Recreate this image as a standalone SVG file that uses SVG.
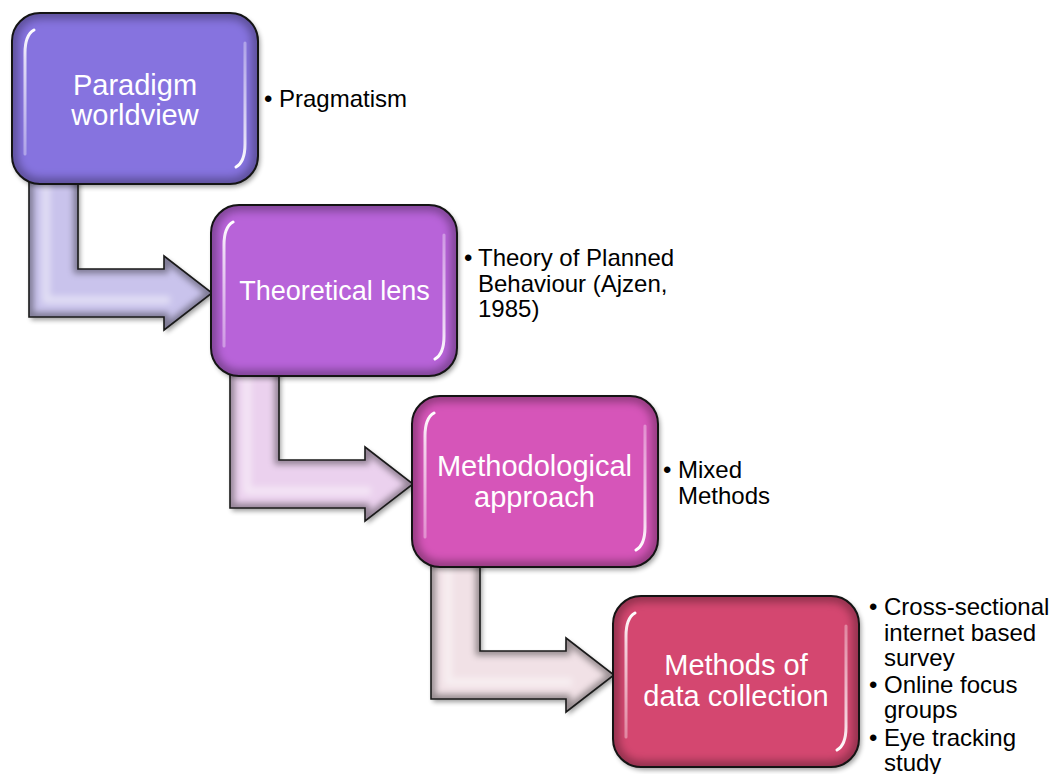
<svg xmlns="http://www.w3.org/2000/svg" xmlns:xlink="http://www.w3.org/1999/xlink" width="1053" height="774" viewBox="0 0 1053 774">
  <style>
    .edge { fill: none; stroke: #141414; stroke-width: 2; }
    .rim { fill: none; stroke: #000; stroke-opacity: 0.32; stroke-width: 12; }
    .gloss-l { fill: none; stroke: url(#glossTop); stroke-width: 3; stroke-linecap: round; }
    .gloss-r { fill: none; stroke: url(#glossBottom); stroke-width: 3; stroke-linecap: round; }
    .label { font-family: "Liberation Sans", Arial, sans-serif; fill: #fff; text-anchor: middle; }
    .note { font-family: "Liberation Sans", Arial, sans-serif; font-size: 24px; fill: #000; }
    .arrow-edge { fill: none; stroke: #1a1a1a; stroke-width: 1.6; stroke-linejoin: miter; }
    .arrow-rim { fill: none; stroke: #000; stroke-opacity: 0.38; stroke-width: 9; }
    .arrow-hl { fill: none; stroke: #fff; stroke-opacity: 0.45; stroke-width: 8; stroke-linejoin: round; }
  </style>
  <defs>
    <rect id="boxShape" x="0" y="0" width="246" height="171" rx="28" ry="28"/>
    <clipPath id="boxClip"><use xlink:href="#boxShape"/></clipPath>
    <path id="arrowShape" d="M29,168 L78,168 L78,269 L164,269 L164,256 L212,293 L164,330 L164,317 L29,317 Z"/>
    <clipPath id="arrowClip"><use xlink:href="#arrowShape"/></clipPath>
    <linearGradient id="glossTop" gradientUnits="userSpaceOnUse" x1="0" y1="17" x2="0" y2="141">
      <stop offset="0" stop-color="#fff" stop-opacity="1"/>
      <stop offset="0.25" stop-color="#fff" stop-opacity="0.75"/>
      <stop offset="1" stop-color="#fff" stop-opacity="0.35"/>
    </linearGradient>
    <linearGradient id="glossBottom" gradientUnits="userSpaceOnUse" x1="0" y1="30" x2="0" y2="154">
      <stop offset="0" stop-color="#fff" stop-opacity="0.35"/>
      <stop offset="0.75" stop-color="#fff" stop-opacity="0.75"/>
      <stop offset="1" stop-color="#fff" stop-opacity="1"/>
    </linearGradient>
    <filter id="shadow" x="-10%" y="-10%" width="125%" height="130%">
      <feGaussianBlur in="SourceAlpha" stdDeviation="2.5"/>
      <feOffset dx="2" dy="3" result="off"/>
      <feComponentTransfer><feFuncA type="linear" slope="0.4"/></feComponentTransfer>
      <feMerge><feMergeNode/><feMergeNode in="SourceGraphic"/></feMerge>
    </filter>
    <filter id="blur4" x="-20%" y="-20%" width="140%" height="140%"><feGaussianBlur stdDeviation="4"/></filter>
    <filter id="blur3" x="-20%" y="-20%" width="140%" height="140%"><feGaussianBlur stdDeviation="3"/></filter>
    <filter id="blur1" x="-50%" y="-10%" width="200%" height="120%"><feGaussianBlur stdDeviation="0.7"/></filter>
  </defs>

  <!-- bent arrows leading from each step into the next -->
  <g id="connectors">
    <g id="arrow-1">
      <use xlink:href="#arrowShape" fill="#C9C3EC" filter="url(#shadow)"/>
      <g clip-path="url(#arrowClip)">
        <use xlink:href="#arrowShape" class="arrow-rim" filter="url(#blur3)"/>
        <path class="arrow-hl" d="M46,180 L46,300 L170,300" filter="url(#blur3)"/>
      </g>
      <use xlink:href="#arrowShape" class="arrow-edge"/>
    </g>
    <g id="arrow-2" transform="translate(201,191)">
      <use xlink:href="#arrowShape" fill="#EBD1EE" filter="url(#shadow)"/>
      <g clip-path="url(#arrowClip)">
        <use xlink:href="#arrowShape" class="arrow-rim" filter="url(#blur3)"/>
        <path class="arrow-hl" d="M46,180 L46,300 L170,300" filter="url(#blur3)"/>
      </g>
      <use xlink:href="#arrowShape" class="arrow-edge"/>
    </g>
    <g id="arrow-3" transform="translate(402,382)">
      <use xlink:href="#arrowShape" fill="#F1E1E6" filter="url(#shadow)"/>
      <g clip-path="url(#arrowClip)">
        <use xlink:href="#arrowShape" class="arrow-rim" filter="url(#blur3)"/>
        <path class="arrow-hl" d="M46,180 L46,300 L170,300" filter="url(#blur3)"/>
      </g>
      <use xlink:href="#arrowShape" class="arrow-edge"/>
    </g>
  </g>

  <!-- step 1 -->
  <g id="node-paradigm">
    <g transform="translate(12,13)">
      <use xlink:href="#boxShape" fill="#8673DF" filter="url(#shadow)"/>
      <g clip-path="url(#boxClip)"><use xlink:href="#boxShape" class="rim" filter="url(#blur4)"/></g>
      <path class="gloss-l" d="M22,17 Q13,22 13,40 L13,141" filter="url(#blur1)"/>
      <path class="gloss-r" d="M233,30 L233,131 Q233,149 224,154" filter="url(#blur1)"/>
      <use xlink:href="#boxShape" class="edge"/>
      <text class="label" font-size="29" x="123" y="81.5">Paradigm</text>
      <text class="label" font-size="29" x="123" y="112">worldview</text>
    </g>
    <text class="note" x="264" y="107">•</text>
    <text class="note" x="279" y="107">Pragmatism</text>
  </g>

  <!-- step 2 -->
  <g id="node-theory">
    <g transform="translate(211,205)">
      <use xlink:href="#boxShape" fill="#B863D9" filter="url(#shadow)"/>
      <g clip-path="url(#boxClip)"><use xlink:href="#boxShape" class="rim" filter="url(#blur4)"/></g>
      <path class="gloss-l" d="M22,17 Q13,22 13,40 L13,141" filter="url(#blur1)"/>
      <path class="gloss-r" d="M233,30 L233,131 Q233,149 224,154" filter="url(#blur1)"/>
      <use xlink:href="#boxShape" class="edge"/>
      <text class="label" font-size="27" x="123.5" y="95">Theoretical lens</text>
    </g>
    <text class="note" x="464" y="266">•</text>
    <text class="note" x="478" y="266">Theory of Planned</text>
    <text class="note" x="478" y="292">Behaviour (Ajzen,</text>
    <text class="note" x="478" y="317">1985)</text>
  </g>

  <!-- step 3 -->
  <g id="node-methodology">
    <g transform="translate(412,396)">
      <use xlink:href="#boxShape" fill="#D654B9" filter="url(#shadow)"/>
      <g clip-path="url(#boxClip)"><use xlink:href="#boxShape" class="rim" filter="url(#blur4)"/></g>
      <path class="gloss-l" d="M22,17 Q13,22 13,40 L13,141" filter="url(#blur1)"/>
      <path class="gloss-r" d="M233,30 L233,131 Q233,149 224,154" filter="url(#blur1)"/>
      <use xlink:href="#boxShape" class="edge"/>
      <text class="label" font-size="29" x="122.5" y="80">Methodological</text>
      <text class="label" font-size="29" x="122.5" y="111">approach</text>
    </g>
    <text class="note" x="663" y="478">•</text>
    <text class="note" x="678" y="478">Mixed</text>
    <text class="note" x="678" y="503.5">Methods</text>
  </g>

  <!-- step 4 -->
  <g id="node-data-collection">
    <g transform="translate(613,596)">
      <use xlink:href="#boxShape" fill="#D4466F" filter="url(#shadow)"/>
      <g clip-path="url(#boxClip)"><use xlink:href="#boxShape" class="rim" filter="url(#blur4)"/></g>
      <path class="gloss-l" d="M22,17 Q13,22 13,40 L13,141" filter="url(#blur1)"/>
      <path class="gloss-r" d="M233,30 L233,131 Q233,149 224,154" filter="url(#blur1)"/>
      <use xlink:href="#boxShape" class="edge"/>
      <text class="label" font-size="29" x="123" y="79">Methods of</text>
      <text class="label" font-size="29" x="123" y="110">data collection</text>
    </g>
    <text class="note" x="869" y="615">•</text>
    <text class="note" x="884" y="615">Cross-sectional</text>
    <text class="note" x="884" y="640.5">internet based</text>
    <text class="note" x="884" y="666">survey</text>
    <text class="note" x="869" y="693">•</text>
    <text class="note" x="884" y="693">Online focus</text>
    <text class="note" x="884" y="718">groups</text>
    <text class="note" x="869" y="746">•</text>
    <text class="note" x="884" y="746">Eye tracking</text>
    <text class="note" x="884" y="771">study</text>
  </g>
</svg>
